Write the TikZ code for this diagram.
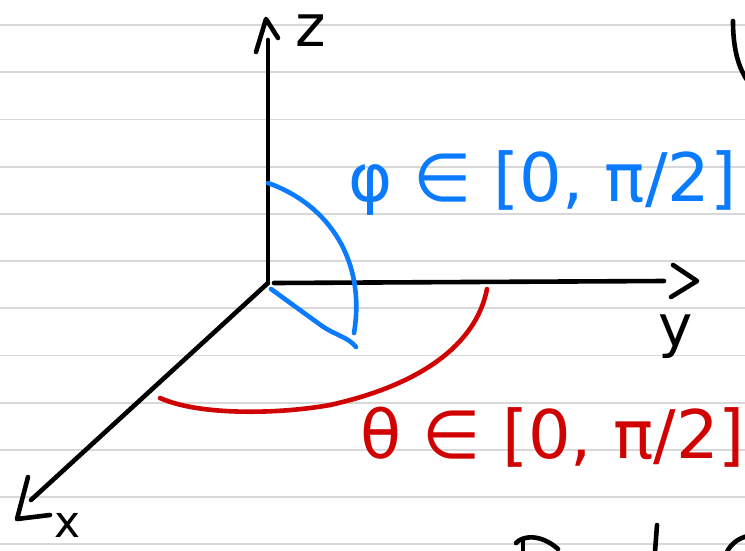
\documentclass[tikz,border=0pt]{standalone}
\usepackage{fontspec}
\setmainfont{DejaVu Sans}
\definecolor{inkblue}{RGB}{10,122,255}
\definecolor{inkred}{RGB}{208,2,2}
\definecolor{ruling}{RGB}{216,216,216}
\tikzset{
  ink/.style={line width=4.6pt, line cap=round, line join=round},
  axis/.style={ink, black},
  bluestroke/.style={ink, inkblue},
  redstroke/.style={ink, inkred},
  rule/.style={draw=ruling, line width=1.8pt},
  lbl/.style={inner sep=0pt, font=\fontsize{58}{58}\selectfont},
  bigtext/.style={inner sep=0pt, font=\fontsize{67}{67}\selectfont}
}
\begin{document}
\begin{tikzpicture}[x=1pt,y=-1pt]
\useasboundingbox (0,0) rectangle (745,550);
\fill[white] (0,0) rectangle (745,550);
% ruled paper
\foreach \k in {0,...,11}{
  \draw[rule] (0,{25+47.2*\k}) -- (745,{25+47.2*\k});
}
% axes
\coordinate (O) at (268,283);
\coordinate (ztip) at (268,40);
\coordinate (ytip) at (664,281);
\coordinate (xtip) at (31,500);
\draw[axis] (O) -- (ztip);
\draw[axis] ([xshift=6pt]O) -- (ytip);
\draw[axis] (O) -- (xtip);
% hand-drawn arrow heads
\draw[axis] ([shift={(-12,12)}]ztip) -- ([shift={(-2,-21)}]ztip) -- ([shift={(10,-2)}]ztip);
\draw[axis] ([shift={(9,-16)}]ytip) -- ([shift={(33,0)}]ytip) -- ([shift={(7,16)}]ytip);
\draw[axis] ([shift={(-3,-23)}]xtip) -- ([shift={(-14,19)}]xtip) -- ([shift={(19,15)}]xtip);
% axis labels
\node[lbl, anchor=base west] (zl) at (295,46) {z};
\node[lbl, anchor=base west] (yl) at (658,346) {y};
\node[lbl, anchor=base west, font=\fontsize{44}{44}\selectfont] (xl) at (54,537) {x};
% blue angle phi
\coordinate (pz) at (268,183);
\coordinate (pe) at (354,333);
\coordinate (vs) at (271,289);
\coordinate (ve) at (356,347);
\draw[bluestroke] (pz) .. controls (330,205) and (366,262) .. (pe);
\draw[bluestroke] (vs) -- (322,326) .. controls (335,335) and (348,337) .. (ve);
% red angle theta
\coordinate (ts) at (487,289);
\coordinate (te) at (160,398);
\draw[redstroke] (ts) .. controls (476,345) and (420,385) .. (330,405) .. controls (280,414) and (200,416) .. (te);
% labels
\node[bigtext, text=inkblue, anchor=base west] (phil) at (348,201) {φ ∈ [0, π/2]};
\node[bigtext, text=inkred, anchor=base west] (thetal) at (360,458) {θ ∈ [0, π/2]};
% partial strokes at the page edges
\draw[axis] (733,21) .. controls (733,45) and (737,65) .. (747,80);
\draw[axis] (516,543) .. controls (522,536) and (540,533) .. (558,549);
\draw[axis] (523,541) -- (523,552);
\draw[axis] (657,525) -- (655,552);
\draw[axis] (748,536) .. controls (738,538) and (730,545) .. (727,552);
\end{tikzpicture}
\end{document}
